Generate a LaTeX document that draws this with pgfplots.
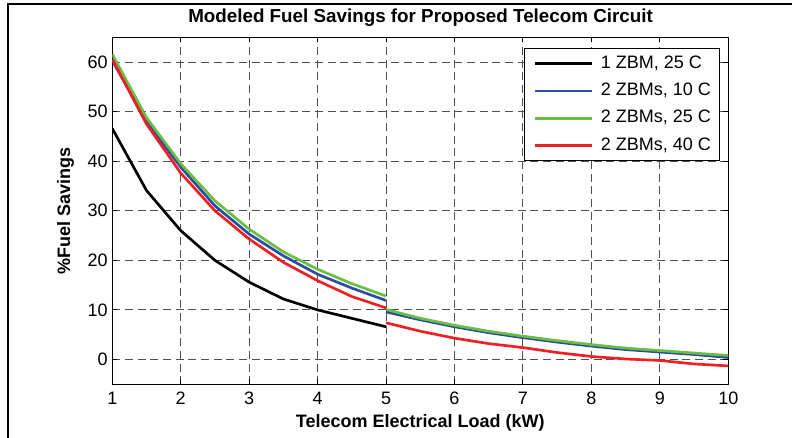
\documentclass[border=0pt]{standalone}
\usepackage{fontspec}
\setmainfont{Liberation Sans}
\usepackage{pgfplots}
\pgfplotsset{compat=1.18}
\definecolor{zblue}{HTML}{2B4EA2}
\definecolor{zgreen}{HTML}{6BBE44}
\definecolor{zred}{HTML}{ED2024}
\definecolor{gridc}{HTML}{505050}
\begin{document}
\begin{tikzpicture}
\useasboundingbox (0,0) rectangle (594pt,328.5pt);
\draw[line width=1.3pt] (6pt,-1pt) -- (6pt,325.5pt) -- (595pt,325.5pt);
\node[font=\fontsize{14.1}{16}\selectfont\bfseries, anchor=center] at (315.4pt,315pt) {Modeled Fuel Savings for Proposed Telecom Circuit};
\begin{axis}[
  at={(84.2pt,40.3pt)}, anchor=south west,
  scale only axis, width=462pt, height=260.25pt,
  xmin=1, xmax=10, ymin=-5, ymax=65,
  xtick={1,2,...,10}, ytick={0,10,...,60},
  tick align=inside, major tick length=3.75pt,
  tick style={black, line width=0.7pt},
  axis line style={line width=1pt},
  grid=major,
  major grid style={gridc, line width=0.7pt, dash pattern=on 6pt off 3.5pt},
  /pgf/number format/assume math mode=true,
  ticklabel style={font=\fontsize{13.5}{16}\selectfont},
  xticklabel style={yshift=-2pt},
  xlabel={\bfseries Telecom Electrical Load (kW)},
  xlabel style={font=\fontsize{13.5}{16}\selectfont, at={(axis description cs:0.5,-0.1115)}, anchor=center},
  ylabel={\bfseries \%Fuel Savings},
  ylabel style={font=\fontsize{13.5}{16}\selectfont, at={(axis description cs:-0.076,0.5)}, anchor=center, rotate=0},
  unbounded coords=jump,
  legend cell align=left,
  legend image code/.code={\path (-3pt,0pt); \draw[#1] (0pt,0pt) -- (42.75pt,0pt); \path (46pt,0pt);},
  legend style={at={(axis description cs:0.9865,0.969)}, anchor=north east,
    font=\fontsize{13.5}{16}\selectfont, draw=black, line width=0.7pt, fill=white,
    inner xsep=4.5pt, inner ysep=2.8pt,
    nodes={text height=10pt, text depth=3pt, inner sep=2pt},
    row sep=3.5pt},
  every axis plot/.append style={line width=2pt},
]
\addplot[black] coordinates {(1,46.6)(1.5,34.1)(2,26.0)(2.5,20.0)(3,15.6)(3.5,12.2)(4,10.0)(4.5,8.3)(5,6.6)};
\addlegendentry{1 ZBM, 25 C}
\addplot[zblue] coordinates {(1,60.3)(1.5,48.0)(2,38.8)(2.5,31.0)(3,25.3)(3.5,20.9)(4,17.2)(4.5,14.4)(5,11.9)
 (5,nan)
 (5,9.6)(5.5,8.0)(6,6.6)(6.5,5.4)(7,4.4)(7.5,3.5)(8,2.7)(8.5,2.0)(9,1.5)(9.5,1.0)(10,0.4)};
\addlegendentry{2 ZBMs, 10 C}
\addplot[zgreen] coordinates {(1,61.6)(1.5,48.8)(2,39.5)(2.5,32.0)(3,26.3)(3.5,21.7)(4,18.2)(4.5,15.3)(5,12.8)
 (5,nan)
 (5,10.1)(5.5,8.3)(6,6.9)(6.5,5.7)(7,4.7)(7.5,3.8)(8,3.0)(8.5,2.3)(9,1.8)(9.5,1.3)(10,0.8)};
\addlegendentry{2 ZBMs, 25 C}
\addplot[zred] coordinates {(1,60.6)(1.5,47.5)(2,37.6)(2.5,30.0)(3,24.3)(3.5,19.6)(4,15.9)(4.5,12.7)(5,10.4)
 (5,nan)
 (5,7.4)(5.5,5.7)(6,4.3)(6.5,3.2)(7,2.4)(7.5,1.4)(8,0.6)(8.5,0.1)(9,-0.2)(9.5,-0.9)(10,-1.3)};
\addlegendentry{2 ZBMs, 40 C}
\end{axis}
\end{tikzpicture}
\end{document}
